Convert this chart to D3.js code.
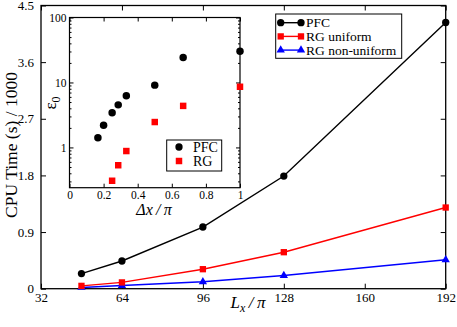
<!DOCTYPE html>
<html>
<head>
<meta charset="utf-8">
<script src="https://cdn.jsdelivr.net/npm/d3@7"></script>
<style>
body { margin: 0; background: #fff; }
text { font-family: "Liberation Serif", "Times New Roman", serif; fill: #000; }
</style>
</head>
<body>
<div id="chart"></div>
<script>
// Main chart: CPU time vs system size
const gridSizes = [48, 64, 96, 128, 192];
const pfcTime = [0.24, 0.44, 0.98, 1.79, 4.23];
const rgUniformTime = [0.045, 0.10, 0.31, 0.58, 1.29];
const rgNonUniformTime = [0.02, 0.05, 0.11, 0.21, 0.46];
const xTicks = [32, 64, 96, 128, 160, 192];
const yTicks = [0, 0.9, 1.8, 2.7, 3.6, 4.5];
const seriesNames = ['PFC', 'RG uniform', 'RG non-uniform'];

// Inset: error vs grid spacing
const pfcSpacing = [1/6, 1/5, 1/4, 2/7, 1/3, 1/2, 2/3, 1];
const pfcError = [1.41, 2.19, 3.41, 4.52, 6.26, 9.1, 24.3, 30.3];
const rgSpacing = [1/4, 2/7, 1/3, 1/2, 2/3, 1];
const rgError = [0.307, 0.532, 0.88, 2.46, 4.36, 8.59];
const insetXTicks = [0, 0.2, 0.4, 0.6, 0.8, 1];
const insetYTicks = [1, 10, 100];
const insetNames = ['PFC', 'RG'];

const dimensions = {
    width: 457,
    height: 327,
    left: 41, right: 445.7, top: 5.5, bottom: 288.7,
    insetLeft: 69.5, insetRight: 240, insetTop: 17.5, insetBottom: 187.7
}

const svg = d3.select('#chart')
    .append('svg')
    .attr('width', dimensions.width)
    .attr('height', dimensions.height);

// Scales
const xScale = d3.scaleLinear().domain([32, 192]).range([dimensions.left, dimensions.right]);
const yScale = d3.scaleLinear().domain([0, 4.5]).range([dimensions.bottom, dimensions.top]);

const ixScale = d3.scaleLinear().domain([0, 1]).range([dimensions.insetLeft, dimensions.insetRight]);
const iyScale = d3.scaleLog().domain([0.24, 100]).range([dimensions.insetBottom, dimensions.insetTop]);

// helper: draw an axis with inward ticks, no domain line
function drawAxis(g, axis, fontSize) {
    g.call(axis);
    g.select('.domain').remove();
    g.selectAll('line').attr('stroke', '#000').attr('stroke-width', 1);
    g.selectAll('text')
        .style('font-family', '"Liberation Serif", serif')
        .style('font-size', fontSize + 'px')
        .attr('fill', '#000');
    return g;
}

// ---- Main plot ----
const main = svg.append('g');

drawAxis(main.append('g').attr('transform', `translate(0,${dimensions.bottom})`),
    d3.axisBottom(xScale).tickValues(xTicks).tickSize(-5).tickPadding(4), 13);
drawAxis(main.append('g').attr('transform', `translate(0,${dimensions.top})`),
    d3.axisTop(xScale).tickValues(xTicks).tickSize(-5).tickFormat(''), 13);
drawAxis(main.append('g').attr('transform', `translate(${dimensions.left},0)`),
    d3.axisLeft(yScale).tickValues(yTicks).tickSize(-5).tickPadding(7).tickFormat(d => d), 13);
drawAxis(main.append('g').attr('transform', `translate(${dimensions.right},0)`),
    d3.axisRight(yScale).tickValues(yTicks).tickSize(-5).tickFormat(''), 13);

main.append('rect')
    .attr('x', dimensions.left)
    .attr('y', dimensions.top)
    .attr('width', dimensions.right - dimensions.left)
    .attr('height', dimensions.bottom - dimensions.top)
    .attr('fill', 'none')
    .attr('stroke', '#000')
    .attr('stroke-width', 1.3);

// axis titles
main.append('text')
    .attr('transform', `translate(17,145) rotate(-90)`)
    .attr('text-anchor', 'middle')
    .style('font-size', '17.5px')
    .text('CPU Time (s) / 1000');

const xTitle = main.append('text')
    .attr('x', 248)
    .attr('y', 308)
    .attr('text-anchor', 'middle')
    .style('font-size', '17px')
    .style('font-style', 'italic');
xTitle.append('tspan').text('L');
xTitle.append('tspan').attr('dy', 4).style('font-size', '12px').text('x');
xTitle.append('tspan').attr('dy', -4).text('\u2009/\u2009π');

// series
const mainSeries = [
    { name: seriesNames[0], values: pfcTime, color: '#000', symbol: d3.symbolCircle, size: 42 },
    { name: seriesNames[1], values: rgUniformTime, color: '#f00', symbol: d3.symbolSquare, size: 40 },
    { name: seriesNames[2], values: rgNonUniformTime, color: '#00f', symbol: d3.symbolTriangle, size: 30 }
];

const line = d3.line()
    .x((d, i) => xScale(gridSizes[i]))
    .y(d => yScale(d));

// draw in reverse so PFC sits on top
mainSeries.slice().reverse().forEach(s => {
    main.append('path')
        .datum(s.values)
        .attr('d', line)
        .attr('fill', 'none')
        .attr('stroke', s.color)
        .attr('stroke-width', 1.4);
    main.selectAll(null)
        .data(s.values)
        .join('path')
        .attr('transform', (d, i) => `translate(${xScale(gridSizes[i])},${yScale(d)})`)
        .attr('d', d3.symbol(s.symbol, s.size))
        .attr('fill', s.color);
});

// main legend
const legend = main.append('g');
legend.append('rect')
    .attr('x', 275.7).attr('y', 14)
    .attr('width', 126).attr('height', 44.3)
    .attr('fill', '#fff')
    .attr('stroke', '#000')
    .attr('stroke-width', 1);
mainSeries.forEach((s, i) => {
    const yPos = 22.7 + i * 13.7;
    legend.append('line')
        .attr('x1', 280.7).attr('x2', 301)
        .attr('y1', yPos).attr('y2', yPos)
        .attr('stroke', s.color)
        .attr('stroke-width', 1.4);
    [280.7, 301].forEach(xPos => {
        legend.append('path')
            .attr('transform', `translate(${xPos},${yPos})`)
            .attr('d', d3.symbol(s.symbol, s.size))
            .attr('fill', s.color);
    });
    legend.append('text')
        .attr('x', 306)
        .attr('y', yPos + 4.5)
        .style('font-size', '13.5px')
        .text(s.name);
});

// ---- Inset ----
const inset = svg.append('g');
inset.append('rect')
    .attr('x', dimensions.insetLeft)
    .attr('y', dimensions.insetTop)
    .attr('width', dimensions.insetRight - dimensions.insetLeft)
    .attr('height', dimensions.insetBottom - dimensions.insetTop)
    .attr('fill', '#fff');

const minorYTicks = iyScale.ticks().filter(d => !insetYTicks.includes(d));

drawAxis(inset.append('g').attr('transform', `translate(0,${dimensions.insetBottom})`),
    d3.axisBottom(ixScale).tickValues(insetXTicks).tickSize(-4).tickPadding(3).tickFormat(d => d), 11.5);
drawAxis(inset.append('g').attr('transform', `translate(0,${dimensions.insetTop})`),
    d3.axisTop(ixScale).tickValues(insetXTicks).tickSize(-4).tickFormat(''), 11.5);
drawAxis(inset.append('g').attr('transform', `translate(${dimensions.insetLeft},0)`),
    d3.axisLeft(iyScale).tickValues(insetYTicks).tickSize(-4).tickPadding(3).tickFormat(d => d), 11.5);
drawAxis(inset.append('g').attr('transform', `translate(${dimensions.insetLeft},0)`),
    d3.axisLeft(iyScale).tickValues(minorYTicks).tickSize(-2).tickFormat(''), 11.5);
drawAxis(inset.append('g').attr('transform', `translate(${dimensions.insetRight},0)`),
    d3.axisRight(iyScale).tickValues(insetYTicks).tickSize(-4).tickFormat(''), 11.5);
drawAxis(inset.append('g').attr('transform', `translate(${dimensions.insetRight},0)`),
    d3.axisRight(iyScale).tickValues(minorYTicks).tickSize(-2).tickFormat(''), 11.5);

inset.append('rect')
    .attr('x', dimensions.insetLeft)
    .attr('y', dimensions.insetTop)
    .attr('width', dimensions.insetRight - dimensions.insetLeft)
    .attr('height', dimensions.insetBottom - dimensions.insetTop)
    .attr('fill', 'none')
    .attr('stroke', '#000')
    .attr('stroke-width', 1.2);

// inset axis titles
inset.append('text')
    .attr('x', 154)
    .attr('y', 215)
    .attr('text-anchor', 'middle')
    .style('font-size', '16px')
    .style('font-style', 'italic')
    .text('Δx\u2009/\u2009π');

const iyTitle = inset.append('text')
    .attr('transform', 'translate(56,103) rotate(-90)')
    .attr('text-anchor', 'middle')
    .style('font-size', '17px');
iyTitle.append('tspan').text('ε');
iyTitle.append('tspan').attr('dy', 4).style('font-size', '12px').text('0');

// inset points
inset.selectAll('.pfc-pt')
    .data(pfcError)
    .join('path')
    .attr('class', 'pfc-pt')
    .attr('transform', (d, i) => `translate(${ixScale(pfcSpacing[i])},${iyScale(d)})`)
    .attr('d', d3.symbol(d3.symbolCircle, 44))
    .attr('fill', '#000');

inset.selectAll('.rg-pt')
    .data(rgError)
    .join('path')
    .attr('class', 'rg-pt')
    .attr('transform', (d, i) => `translate(${ixScale(rgSpacing[i])},${iyScale(d)})`)
    .attr('d', d3.symbol(d3.symbolSquare, 42))
    .attr('fill', '#f00');

// inset legend
const insetLegend = inset.append('g');
insetLegend.append('rect')
    .attr('x', 166.7).attr('y', 140)
    .attr('width', 55).attr('height', 31)
    .attr('fill', '#fff')
    .attr('stroke', '#000')
    .attr('stroke-width', 1);
[
    { name: insetNames[0], symbol: d3.symbolCircle, color: '#000' },
    { name: insetNames[1], symbol: d3.symbolSquare, color: '#f00' }
].forEach((s, i) => {
    const yPos = 147 + i * 14;
    insetLegend.append('path')
        .attr('transform', `translate(179,${yPos})`)
        .attr('d', d3.symbol(s.symbol, 42))
        .attr('fill', s.color);
    insetLegend.append('text')
        .attr('x', 193)
        .attr('y', yPos + 5)
        .style('font-size', '14px')
        .text(s.name);
});
</script>
</body>
</html>
